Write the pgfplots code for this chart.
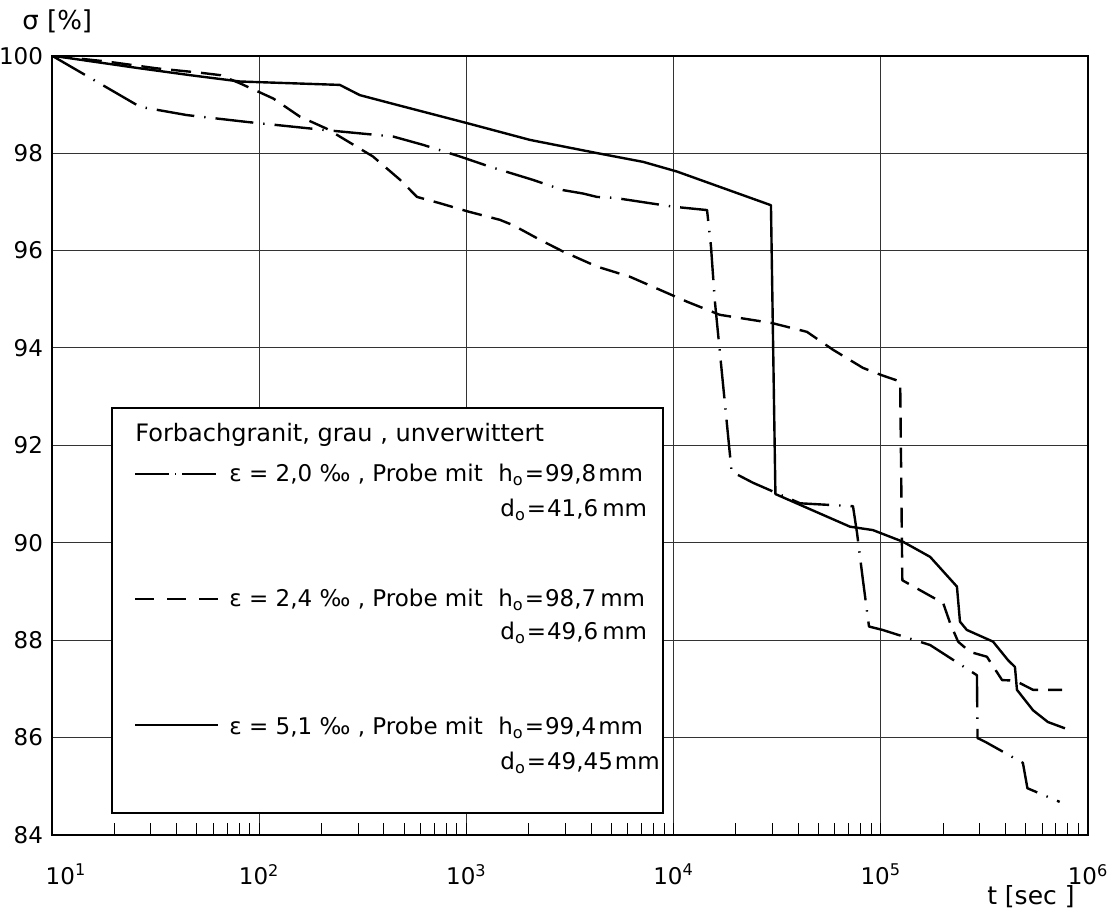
\documentclass[border=0pt]{standalone}
\usepackage{fontspec}
\setmainfont{DejaVu Sans}
\usepackage{pgfplots}
\pgfplotsset{compat=1.18}

\tikzset{
  s51/.style={line width=1.2pt, black, line join=round},
  s24/.style={line width=1.2pt, black, line join=round, dash pattern=on 10pt off 5pt},
  s20/.style={line width=1.2pt, black, line join=round, dash pattern=on 19pt off 5pt on 0.7pt off 5pt},
}

\begin{document}
\begin{tikzpicture}
\begin{axis}[
  scale only axis,
  width=518pt, height=389.65pt,
  xmode=log, xmin=10, xmax=1e6,
  ymin=84, ymax=100,
  xtick={10,100,1000,10000,100000,1000000},
  xticklabels={\hspace*{14pt}10\textsuperscript{1},10\textsuperscript{2},10\textsuperscript{3},10\textsuperscript{4},10\textsuperscript{5},10\textsuperscript{6}},
  ytick={84,86,...,100},
  yticklabels={\raisebox{-3pt}{84},86,88,90,92,94,96,98,100},
  grid=major,
  major grid style={black!80, line width=0.45pt},
  axis line style={line width=0.9pt},
  tick align=inside,
  xtick pos=left, ytick pos=left,
  major tick length=0pt,
  minor tick length=6pt,
  minor tick style={line width=0.5pt, black},
  tick label style={font=\fontsize{11.5}{13}\selectfont},
  xticklabel style={yshift=-11pt},
  yticklabel style={xshift=-1pt},
]
% eps = 5,1 permil
\addplot[s51] coordinates {
(10,100) (26.6,99.74) (46.4,99.6) (80.7,99.47) (245,99.4) (306,99.19)
(462,98.99) (1018,98.61) (2030,98.27) (4270,98.0) (7120,97.82) (10400,97.62)
(29500,96.93) (31000,91.0) (46600,90.67) (71000,90.33) (91600,90.26)
(128000,90.02) (173000,89.71) (233000,89.1) (241000,88.38) (260000,88.21)
(348000,87.97) (411000,87.59) (444000,87.45) (454000,86.98) (543000,86.56)
(640000,86.32) (774000,86.19)
};
% eps = 2,4 permil
\addplot[s24] coordinates {
(10,100) (18.4,99.88) (32,99.74) (52,99.65) (65,99.6) (81,99.43) (117,99.12)
(157,98.75) (212,98.5) (354,97.93) (479,97.45) (578,97.1) (746,96.97)
(1020,96.8) (1450,96.63) (1680,96.52) (2265,96.22) (2925,95.98) (4270,95.67)
(6165,95.46) (11600,94.95) (16700,94.68) (29900,94.51) (44000,94.33)
(58900,93.96) (82000,93.59) (101000,93.44) (124000,93.31) (127000,89.23)
(200000,88.76) (216000,88.35) (236000,87.97) (269000,87.76) (325000,87.66)
(385000,87.18) (444000,87.17) (543000,86.98) (750000,86.98)
};
% eps = 2,0 permil
\addplot[s20] coordinates {
(10,100) (26.6,98.95) (44.8,98.78) (87,98.64) (212,98.47) (443,98.34)
(617,98.17) (931,97.93) (1300,97.72) (2095,97.45) (2925,97.24) (3655,97.17)
(4270,97.1) (5210,97.08) (9930,96.9) (14500,96.83) (15150,96.08)
(15800,94.98) (19050,91.46) (24200,91.23) (40800,90.81) (73400,90.75)
(76800,90.2) (82000,89.23) (87700,88.28) (102000,88.21) (173000,87.9)
(291000,87.28) (293000,85.99) (320000,85.91) (485000,85.48) (510000,84.96)
(730000,84.68)
};
\coordinate (sw) at (rel axis cs:0,0);
\end{axis}

% legend and labels, placed in pixel units of the reference
\begin{scope}[shift={(sw)}, x=0.5pt, y=-0.5pt, shift={(-52,-835)}]
  \fill[white] (112,408) rectangle (663,813);
  \draw[line width=1pt] (112,408) rectangle (663,813);
  \begin{scope}[every node/.style={anchor=base west, inner sep=0pt, font=\fontsize{11.5}{14}\selectfont}]
    \node[font=\fontsize{12}{14}\selectfont] at (135,441.7) {Forbachgranit, grau , unverwittert};
    \draw[s20, dash pattern=on 17pt off 3pt on 0.7pt off 3pt] (135,474) -- (218,474);
    \node at (229,481.7) {ε = 2,0 ‰ , Probe mit};
    \node at (498,481.7) {h\textsubscript{o}\kern0.5pt=\kern0.5pt99,8\kern1pt mm};
    \node at (500,516.7) {d\textsubscript{o}\kern0.5pt=\kern0.5pt41,6\kern2pt mm};
    \draw[s24, dash pattern=on 9.5pt off 6.5pt] (135,599) -- (218,599);
    \node at (229,606.7) {ε = 2,4 ‰ , Probe mit};
    \node at (498,606.7) {h\textsubscript{o}\kern0.5pt=\kern0.5pt98,7\kern2pt mm};
    \node at (500,640) {d\textsubscript{o}\kern0.5pt=\kern0.5pt49,6\kern2pt mm};
    \draw[s51] (135,725) -- (218,725);
    \node at (229,735) {ε = 5,1 ‰ , Probe mit};
    \node at (498,735) {h\textsubscript{o}\kern0.5pt=\kern0.5pt99,4\kern1pt mm};
    \node at (500,770) {d\textsubscript{o}\kern0.5pt=\kern0.5pt49,45\kern1pt mm};
  \end{scope}
  \node[anchor=base west, inner sep=0pt, font=\fontsize{13}{15}\selectfont] at (22,30) {σ [\%]};
  \node[anchor=base east, inner sep=0pt, font=\fontsize{12.5}{15}\selectfont] at (1075,905) {t [sec ]};
  \pgfresetboundingbox
  \path[use as bounding box] (0,0) rectangle (1117,913);
\end{scope}
\end{tikzpicture}
\end{document}
